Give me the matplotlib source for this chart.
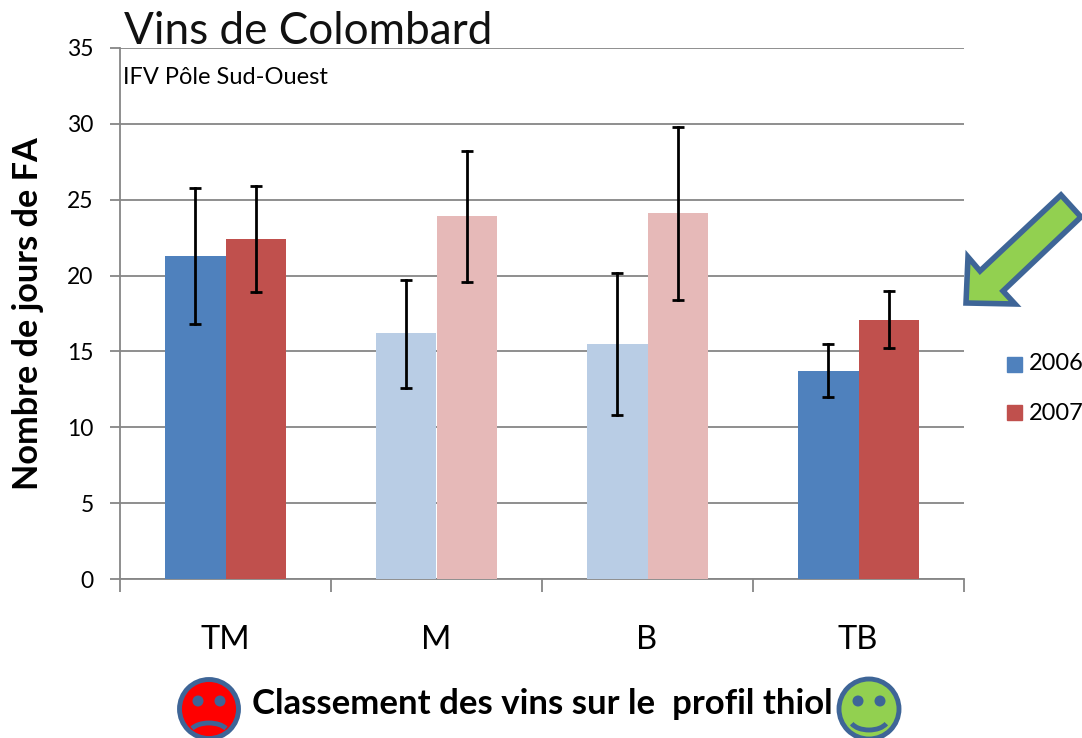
import matplotlib
matplotlib.use("Agg")
import matplotlib.pyplot as plt
from matplotlib.patches import Circle, Polygon, Arc, Rectangle

# --- DATA ---
categories = ["TM", "M", "B", "TB"]
values_2006 = [21.3, 16.2, 15.5, 13.7]
values_2007 = [22.4, 23.9, 24.1, 17.1]
err_low_2006 = [16.8, 12.6, 10.8, 12.0]
err_high_2006 = [25.8, 19.7, 20.2, 15.5]
err_low_2007 = [18.9, 19.6, 18.4, 15.2]
err_high_2007 = [25.9, 28.2, 29.8, 19.0]
colors_2006 = ["#4F81BD", "#B9CDE5", "#B9CDE5", "#4F81BD"]
colors_2007 = ["#C0504D", "#E6B9B8", "#E6B9B8", "#C0504D"]
y_ticks = [0, 5, 10, 15, 20, 25, 30, 35]

W, H = 1082, 738
BLUE = "#3E6597"
plt.rcParams['font.family'] = ['Lato', 'DejaVu Sans']

fig = plt.figure(figsize=(W / 100, H / 100), dpi=100)
ax = fig.add_axes([120 / W, 1 - 579 / H, (964 - 120) / W, (579 - 48) / H])
ax.set_xlim(0, 4)
ax.set_ylim(0, 35)

width = 0.285
for i in range(4):
    ax.bar(i + 0.5 - width / 2, values_2006[i], width, color=colors_2006[i], zorder=3)
    ax.bar(i + 0.5 + width / 2, values_2007[i], width, color=colors_2007[i], zorder=3)
    for x, lo, hi in [(i + 0.5 - width / 2, err_low_2006[i], err_high_2006[i]),
                      (i + 0.5 + width / 2, err_low_2007[i], err_high_2007[i])]:
        ax.plot([x, x], [lo, hi], color="black", lw=2, zorder=4)
        ax.plot([x], [lo], marker="_", ms=8.5, mew=2, color="black", zorder=4)
        ax.plot([x], [hi], marker="_", ms=8.5, mew=2, color="black", zorder=4)

ax.set_yticks(y_ticks)
ax.set_yticklabels([str(t) for t in y_ticks], fontsize=16.5)
ax.set_xticks([0, 1, 2, 3, 4])
ax.set_xticklabels([])
ax.grid(axis='y', color="#868686", lw=1.3, zorder=1)
ax.set_axisbelow(True)
for s in ["top", "right"]:
    ax.spines[s].set_visible(False)
for s in ["left", "bottom"]:
    ax.spines[s].set_color("#868686")
    ax.spines[s].set_linewidth(1.3)
ax.tick_params(axis='y', length=7, color="#868686", width=1.3, pad=12)
ax.tick_params(axis='x', length=9, color="#868686", width=1.3)

# overlay in pixel coordinates
ov = fig.add_axes([0, 0, 1, 1], zorder=5)
ov.set_xlim(0, W)
ov.set_ylim(H, 0)
ov.axis("off")

for i, c in enumerate(categories):
    ov.text(225 + i * 211, 640, c, fontsize=23.5, ha="center", va="center")
ov.text(124, 32, "Vins de Colombard", fontsize=31.8, ha="left", va="center", color="#111111")
ov.text(123, 78, "IFV Pôle Sud-Ouest", fontsize=17, ha="left", va="center")
ov.text(28, 314, "Nombre de jours de FA", fontsize=24.7, fontweight="bold", rotation=90,
        ha="center", va="center")
ov.text(252, 704, "Classement des vins sur le  profil thiol", fontsize=25, fontweight="bold",
        ha="left", va="center")

# legend
ov.add_patch(Rectangle((1007, 357), 15, 15, color=colors_2006[0]))
ov.add_patch(Rectangle((1007, 405), 15, 15, color=colors_2007[0]))
ov.text(1029, 364, "2006", fontsize=17, va="center")
ov.text(1029, 413, "2007", fontsize=17, va="center")

# arrow
arrow = [(966, 303), (968, 257), (980, 271), (1061, 195), (1081, 217), (1003, 291), (1015, 304)]
ov.add_patch(Polygon(arrow, closed=True, facecolor="#92D050", edgecolor=BLUE, lw=4, clip_on=False))

# faces
ov.add_patch(Circle((209, 709), 29.5, facecolor="#FF0000", edgecolor=BLUE, lw=3.5))
ov.add_patch(Circle((198, 701), 5.5, facecolor=BLUE, edgecolor="none"))
ov.add_patch(Circle((220, 701), 5.5, facecolor=BLUE, edgecolor="none"))
ov.add_patch(Arc((209, 733), 38, 20, theta1=195, theta2=345, color=BLUE, lw=3.5))
ov.add_patch(Circle((869, 709), 30, facecolor="#92D050", edgecolor=BLUE, lw=3.5))
ov.add_patch(Circle((858, 701), 5.5, facecolor=BLUE, edgecolor="none"))
ov.add_patch(Circle((880, 701), 5.5, facecolor=BLUE, edgecolor="none"))
ov.add_patch(Arc((869, 719), 38, 22, theta1=15, theta2=165, color=BLUE, lw=3.5))

fig.savefig("out.png", dpi=100)
